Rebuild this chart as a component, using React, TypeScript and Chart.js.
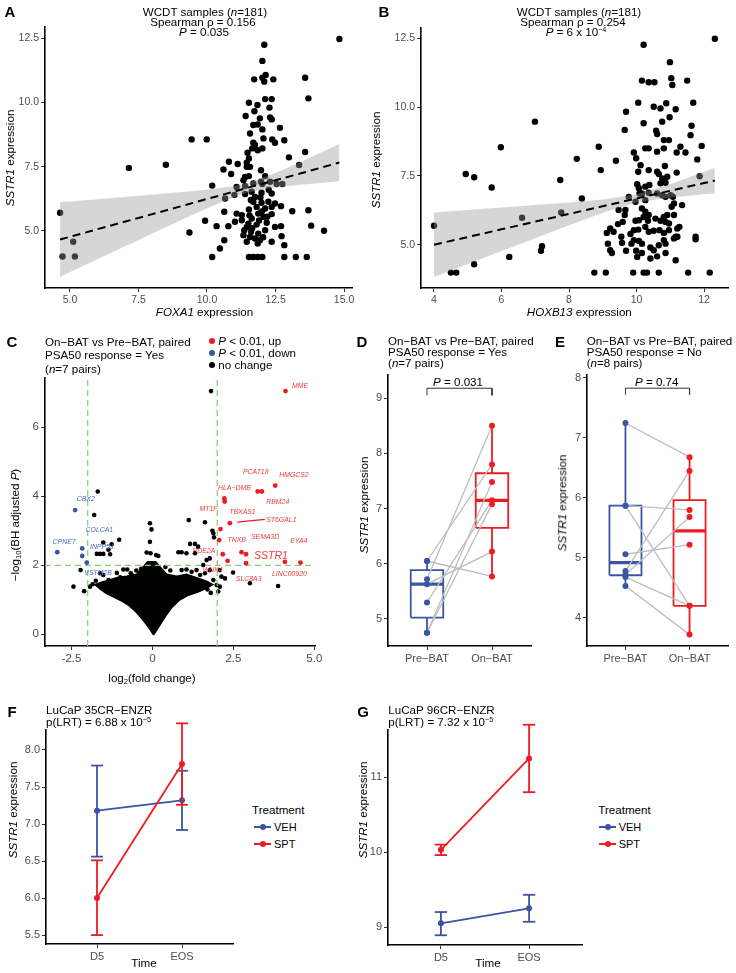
import React, { useEffect, useRef } from "react";
import { Chart, registerables } from "chart.js";

Chart.register(...registerables);

const FONT = "'Liberation Sans', Arial, Helvetica, sans-serif";
const BLUE = "#3b54a4";
const RED = "#ed1c24";
const GREEN = "#8cc870";
const TICK = "#4d4d4d";
const BAND = "rgba(153,153,153,0.4)";
const PAIR = "#bdbdbd";

type P = [number, number];

// ---------- Panel A: FOXA1 vs SSTR1 ----------
const foxa1VsSstr1: P[] = [
  [4.64,5.70],[4.73,4.00],[5.12,4.57],[5.18,4.00],[7.15,7.45],[8.50,7.57],
  [9.36,4.93],[9.44,8.56],[9.99,8.56],[9.93,5.39],[10.19,6.76],[10.19,3.98],[10.35,5.18],[10.47,4.31],[10.60,7.39],[10.63,5.74],[10.63,4.63],[10.66,6.26],[10.78,5.18],[10.80,7.69],[10.88,7.21],
  [11.00,6.40],[11.02,5.35],[11.08,6.71],[11.08,5.67],[11.12,7.60],[11.27,5.61],[11.27,5.41],[11.33,6.97],[11.33,4.83],[11.36,5.02],[11.39,7.10],[11.39,6.74],[11.39,6.43],[11.41,9.47],[11.45,7.65],[11.45,7.49],[11.45,4.57],[11.48,8.04],[11.51,5.28],[11.53,9.99],[11.53,7.82],[11.53,7.13],[11.53,5.83],[11.53,3.98],[11.57,8.79],[11.57,7.49],[11.57,4.76],[11.61,4.96],[11.63,6.52],[11.63,5.48],[11.65,8.21],[11.69,9.12],[11.69,8.43],[11.69,6.84],[11.69,6.13],[11.69,3.98],[11.72,10.90],[11.73,9.66],[11.75,8.34],[11.75,6.32],[11.75,4.70],[11.81,5.93],[11.81,5.24],[11.84,9.90],[11.85,9.14],[11.85,8.14],[11.85,4.50],[11.85,3.98],[11.87,5.67],[11.87,4.89],[11.93,9.38],[11.93,4.63],[11.97,7.36],[11.97,6.91],[11.99,6.48],[11.99,6.09],
  [12.02,11.62],[12.02,10.96],[12.02,8.95],[12.02,8.21],[12.02,6.82],[12.02,3.98],[12.06,8.60],[12.06,5.54],[12.09,12.25],[12.09,10.81],[12.12,10.13],[12.12,7.13],[12.12,5.87],[12.12,5.02],[12.14,11.07],[12.18,5.31],[12.24,6.13],[12.28,9.80],[12.30,9.42],[12.30,6.91],[12.36,10.13],[12.36,9.34],[12.36,6.45],[12.36,5.93],[12.36,5.65],[12.36,4.57],[12.38,8.56],[12.42,10.90],[12.48,8.43],[12.48,6.06],[12.48,5.15],[12.54,6.82],[12.66,9.01],[12.70,5.96],[12.70,5.18],[12.72,4.79],[12.75,6.82],[12.82,8.53],[12.82,4.44],[12.82,3.98],[12.99,7.86],[13.11,5.76],[13.24,3.98],[13.36,7.56],[13.58,10.96],[13.58,8.07],[13.64,3.98],[13.70,10.16],[13.70,5.80],[13.80,5.20],[14.27,5.00],[14.83,12.47],
  [11.45,5.15],[11.55,5.60],[11.65,5.10],[11.90,5.40],[12.00,5.75],[12.20,5.55],[11.95,6.30],[12.25,6.60],[11.60,6.20],[12.05,4.75]
];
const fitAX = [4.64, 6, 7.5, 9, 10, 11, 11.5, 12.5, 13.5, 14.83];
const fitAY = [4.66, 5.06, 5.50, 5.94, 6.24, 6.53, 6.68, 6.97, 7.26, 7.66];
const bandAHigh = [6.11, 6.23, 6.36, 6.50, 6.60, 6.74, 6.86, 7.25, 7.72, 8.39];
const bandALow = [3.21, 3.89, 4.64, 5.39, 5.88, 6.32, 6.50, 6.69, 6.80, 6.93];
const ticksAX = [5, 7.5, 10, 12.5, 15];
const ticksAY = [5, 7.5, 10, 12.5];

// ---------- Panel B: HOXB13 vs SSTR1 ----------
const hoxb13VsSstr1: P[] = [
  [4.00,5.69],[4.50,3.99],[4.66,3.99],[4.94,7.57],[5.19,7.45],[5.19,4.29],[5.71,7.08],[5.98,8.54],[6.23,4.56],[6.61,5.98],[6.99,9.47],[7.17,4.78],[7.20,4.95],[7.74,7.35],[7.77,6.17],[8.23,8.12],[8.38,6.68],[8.75,3.99],[8.88,8.56],[8.94,7.71],
  [9.09,3.99],[9.12,5.43],[9.15,5.04],[9.22,5.59],[9.22,4.80],[9.27,4.70],[9.32,5.47],[9.39,8.05],[9.45,5.75],[9.47,6.26],[9.55,5.29],[9.57,5.07],[9.59,5.83],[9.65,9.17],[9.65,6.08],[9.67,6.26],[9.69,9.83],[9.69,4.78],[9.77,6.74],[9.82,5.39],[9.85,5.04],[9.90,3.99],[9.92,8.35],[9.92,5.53],[9.92,5.17],[9.97,6.56],[9.97,5.87],[9.99,8.14],[9.99,4.78],
  [10.02,7.20],[10.02,4.56],[10.05,10.16],[10.05,7.65],[10.05,5.55],[10.07,7.05],[10.07,5.89],[10.07,5.14],[10.09,6.86],[10.12,7.89],[10.16,10.96],[10.16,6.86],[10.16,6.32],[10.16,5.04],[10.16,4.70],[10.21,12.26],[10.21,9.41],[10.21,6.01],[10.21,3.99],[10.26,8.50],[10.26,7.11],[10.26,6.62],[10.26,6.20],[10.26,5.65],[10.31,3.99],[10.34,5.87],[10.36,10.90],[10.36,8.50],[10.36,7.71],[10.36,6.89],[10.36,6.08],[10.36,5.47],[10.38,7.17],[10.41,4.90],[10.41,4.50],[10.51,10.01],[10.51,5.51],[10.51,4.80],[10.53,10.90],[10.56,5.95],[10.58,9.14],[10.61,9.02],[10.61,8.38],[10.61,7.65],[10.61,6.86],[10.61,4.58],[10.66,7.57],[10.66,4.98],[10.66,3.99],[10.68,5.53],[10.71,9.95],[10.71,7.23],[10.71,5.87],[10.76,9.47],[10.76,7.41],[10.76,6.80],[10.81,8.80],[10.81,8.50],[10.81,6.01],[10.81,5.43],[10.81,5.17],[10.84,7.86],[10.86,7.25],[10.86,6.74],[10.86,5.83],[10.86,5.04],[10.86,4.70],[10.88,10.14],[10.91,7.47],[10.91,6.08],[10.96,8.80],[10.96,5.77],[10.96,5.53],[10.98,9.63],[10.99,11.63],
  [11.01,6.80],[11.03,11.05],[11.04,6.38],[11.06,10.80],[11.08,6.74],[11.11,6.50],[11.11,6.08],[11.11,5.23],[11.16,9.92],[11.16,5.29],[11.16,4.44],[11.19,8.35],[11.19,7.62],[11.21,5.59],[11.21,5.29],[11.27,5.65],[11.30,8.56],[11.35,6.44],[11.45,8.35],[11.50,10.96],[11.53,3.99],[11.60,8.98],[11.63,9.32],[11.68,10.16],[11.75,5.29],[11.75,5.20],[11.80,8.10],[11.87,7.49],[11.93,8.59],[12.17,3.99],[12.32,12.48]
];
const fitBX = [4, 5, 6, 7, 8, 9, 10, 11, 12, 12.32];
const fitBY = [5.00, 5.28, 5.56, 5.84, 6.12, 6.40, 6.68, 6.96, 7.24, 7.33];
const bandBHigh = [6.17, 6.26, 6.35, 6.44, 6.53, 6.64, 6.83, 7.20, 7.65, 7.80];
const bandBLow = [3.83, 4.30, 4.77, 5.24, 5.71, 6.16, 6.53, 6.72, 6.83, 6.86];
const ticksBX = [4, 6, 8, 10, 12];
const ticksBY = [5, 7.5, 10, 12.5];

// ---------- Panel C: volcano ----------
const volcanoCore: P[] = [
  [0.03,-0.02],[-0.10,0.18],[-0.30,0.42],[-0.50,0.64],[-0.72,0.83],[-0.98,0.98],[-1.24,1.10],[-1.42,1.18],[-1.60,1.30],[-1.78,1.44],[-1.55,1.52],[-1.30,1.58],[-1.11,1.64],[-0.80,1.68],[-0.49,1.74],[-0.28,1.96],[-0.15,2.10],[0.10,2.10],[0.23,1.96],[0.44,1.74],[0.75,1.68],[1.05,1.74],[1.36,1.64],[1.67,1.54],[1.86,1.44],[1.67,1.33],[1.38,1.22],[1.08,1.12],[0.82,0.98],[0.60,0.78],[0.40,0.52],[0.20,0.22],[0.03,-0.02]
];
const volcanoNoChange: P[] = [
  [1.81,7.05],[-1.69,4.14],[-1.80,3.46],
  [-0.08,3.22],[-0.03,3.04],[-0.08,2.68],[-0.18,2.37],[-0.06,2.35],[0.11,2.30],[0.18,2.27],
  [-1.03,2.74],[-1.52,2.66],[-1.26,2.61],[-1.36,2.45],[-1.31,2.32],[-1.72,2.33],[-1.62,2.33],[-1.52,2.33],
  [-2.22,1.86],[-2.44,1.38],[-2.11,1.25],[-1.93,1.38],
  [-1.62,1.77],[-1.52,1.72],[-1.36,1.57],[-0.90,1.88],[-0.78,1.88],[-0.67,1.77],[-1.00,1.65],[-0.85,1.57],[-0.64,1.72],
  [-1.75,1.55],[-1.85,1.45],[-1.20,1.45],[-1.10,1.78],[0.40,1.95],[0.55,1.85],[-0.35,1.90],[-0.50,1.85],
  [1.12,3.31],[1.62,3.25],[1.85,3.00],[1.88,2.93],[1.90,2.81],
  [0.80,2.38],[0.90,2.38],[1.16,2.62],[1.31,2.62],[1.41,2.54],[1.31,2.35],[1.05,2.35],
  [1.67,2.15],[1.77,2.20],[1.57,2.01],
  [0.90,1.86],[1.05,1.88],[1.21,1.81],[1.36,1.86],[1.47,1.72],[1.62,1.77],[1.77,1.86],[2.08,1.86],[2.13,1.67],[2.24,1.62],[2.49,1.79],[1.88,1.57],[1.98,1.43],[2.08,1.38],[2.03,1.24],
  [1.70,1.30],[1.60,1.45],[1.80,1.20],
  [3.01,1.48],[3.88,1.40]
];
const volcanoUp: P[] = [
  [4.11,7.05],[3.79,4.31],[3.25,4.14],[3.38,4.14],[2.22,3.94],[2.23,3.85],[2.39,3.22],[2.10,3.05],
  [2.06,2.73],[2.17,2.32],[2.32,2.13],[2.75,2.38],[2.89,2.32],[2.89,2.06],[4.09,2.10],[4.57,2.08]
];
const volcanoDown: P[] = [[-2.39,3.60],[-2.94,2.38],[-2.17,2.49],[-2.17,2.27],[-2.03,2.08]];
const geneLabelsUp: [string, number, number][] = [
  ["MME",4.56,7.20],["PCAT18",3.19,4.71],["HMGCS2",4.37,4.61],["HLA\u2212DMB",2.53,4.23],["RBM24",3.87,3.82],
  ["TBXAS1",2.78,3.53],["ST6GAL1",3.98,3.31],["MT1F",1.73,3.62],["TNXB",2.60,2.73],["SEMA3D",3.48,2.83],
  ["EYA4",4.52,2.69],["PDE2A",1.59,2.42],["WNK4",1.86,1.85],["LINC00920",4.23,1.75],["SLC8A3",2.97,1.59]
];
const geneLabelsDown: [string, number, number][] = [
  ["CBX2",-2.06,3.91],["COLCA1",-1.64,3.02],["CPNE7",-2.73,2.66],["INPP5J",-1.57,2.52],["VSTM2B",-1.68,1.76]
];
const sstr1Label: [string, number, number] = ["SSTR1", 3.66, 2.28];
const st6gal1Connector: P[] = [[2.62,3.25],[3.47,3.33]];
const fcThresholds = [-2, 2];
const padjThreshold = 2;
const ticksCX = [-2.5, 0, 2.5, 5];
const ticksCY = [0, 2, 4, 6];

// ---------- Panels D/E: paired box plots ----------
const bxCategories = ["Pre\u2212BAT", "On\u2212BAT"];
const preD = [6.05, 6.05, 5.72, 5.63, 5.30, 4.75, 4.75];
const onD = [7.80, 5.77, 8.50, 6.22, 7.15, 7.48, 7.08];
const preE = [7.25, 5.87, 5.87, 5.06, 4.78, 4.72, 4.68, 4.53];
const onE = [6.68, 5.80, 4.20, 5.22, 6.45, 5.68, 4.20, 3.72];
const ticksDY = [5, 6, 7, 8, 9];
const ticksEY = [4, 5, 6, 7, 8];

// ---------- Panels F/G: time course ----------
const timeCategories = ["D5", "EOS"];
const vehF = [7.18, 7.32], vehFLo = [6.56, 6.92], vehFHi = [7.79, 7.72];
const sptF = [6.00, 7.81], sptFLo = [5.50, 7.26], sptFHi = [6.51, 8.36];
const vehG = [9.05, 9.25], vehGLo = [8.89, 9.07], vehGHi = [9.20, 9.43];
const sptG = [10.03, 11.25], sptGLo = [9.96, 10.80], sptGHi = [10.10, 11.70];
const ticksFY = [5.5, 6, 6.5, 7, 7.5, 8];
const ticksGY = [9, 10, 11];

// ---------- helpers ----------
const xy = (arr: P[]) => arr.map(([x, y]) => ({ x, y }));
const zip = (xs: number[], ys: number[]) => xs.map((x, i) => ({ x, y: ys[i] }));

function axis(kind: "x" | "y", min: number, max: number, ticks: number[], fmt: (v: number) => string, size: number, fontSize: number) {
  return {
    type: "linear",
    position: kind === "x" ? "bottom" : "left",
    min, max,
    afterBuildTicks: (s: any) => { s.ticks = ticks.map((v) => ({ value: v })); },
    afterFit: (s: any) => { if (kind === "x") s.height = size; else s.width = size; },
    grid: { display: true, drawOnChartArea: false, drawTicks: true, tickLength: 4, color: "#333", lineWidth: 1 },
    border: { display: true, color: "#000", width: 1.6 },
    ticks: {
      color: TICK, font: { family: FONT, size: fontSize }, padding: 2,
      autoSkip: false, maxRotation: 0, minRotation: 0,
      callback: (v: any) => fmt(Number(v)),
    },
  };
}

function pointSet(data: any[], color: string, r: number, order: number) {
  return { data, showLine: false, pointRadius: r, pointHoverRadius: r, pointBackgroundColor: color, pointBorderWidth: 0, pointBorderColor: color, borderColor: color, backgroundColor: color, order };
}
function lineSet(data: any[], color: string, width: number, order: number, dash: number[] = []) {
  return { data, showLine: true, pointRadius: 0, pointHoverRadius: 0, borderColor: color, borderWidth: width, borderDash: dash, fill: false, order, tension: 0, borderJoinStyle: "miter", borderCapStyle: "butt" };
}

function options(pad: any, x: any, y: any) {
  return {
    responsive: false, maintainAspectRatio: false, animation: false, events: [],
    layout: { padding: pad, autoPadding: false },
    plugins: { legend: { display: false }, tooltip: { enabled: false }, title: { display: false } },
    scales: { x, y },
  };
}

function quantile(s: number[], p: number) {
  const h = (s.length - 1) * p;
  const lo = Math.floor(h);
  const hi = Math.min(lo + 1, s.length - 1);
  return s[lo] + (h - lo) * (s[hi] - s[lo]);
}

function boxSets(values: number[], xc: number, color: string) {
  const s = [...values].sort((a, b) => a - b);
  const q1 = quantile(s, 0.25), med = quantile(s, 0.5), q3 = quantile(s, 0.75);
  const iqr = q3 - q1;
  const lo = s.find((v) => v >= q1 - 1.5 * iqr) as number;
  const hi = [...s].reverse().find((v) => v <= q3 + 1.5 * iqr) as number;
  const hw = 0.25;
  return [
    { ...lineSet([{ x: xc - hw, y: q1 }, { x: xc + hw, y: q1 }, { x: xc + hw, y: q3 }, { x: xc - hw, y: q3 }, { x: xc - hw, y: q1 }], color, 1.8, 8), fill: "shape", backgroundColor: "#fff" },
    lineSet([{ x: xc, y: lo }, { x: xc, y: q1 }], color, 1.8, 7),
    lineSet([{ x: xc, y: q3 }, { x: xc, y: hi }], color, 1.8, 7),
    lineSet([{ x: xc - hw, y: med }, { x: xc + hw, y: med }], color, 3.2, 7),
  ];
}

function pairedSets(pre: number[], on: number[], bracketLo: number, bracketHi: number) {
  return [
    ...boxSets(pre, 1, BLUE),
    ...boxSets(on, 2, RED),
    ...pre.map((p, i) => lineSet([{ x: 1, y: p }, { x: 2, y: on[i] }], PAIR, 1.3, 4)),
    pointSet(pre.map((v) => ({ x: 1, y: v })), BLUE, 3, 2),
    pointSet(on.map((v) => ({ x: 2, y: v })), RED, 3, 2),
    lineSet([{ x: 1, y: bracketLo }, { x: 1, y: bracketHi }, { x: 2, y: bracketHi }, { x: 2, y: bracketLo }], "#333", 1, 1),
  ];
}

function errSets(means: number[], lo: number[], hi: number[], color: string, order: number) {
  const cap = 0.07;
  const out: any[] = [];
  means.forEach((_, i) => {
    const xc = i + 1;
    out.push({ ...lineSet([{ x: xc, y: lo[i] }, { x: xc, y: hi[i] }], color, 1.8, order), clip: false });
    out.push({ ...lineSet([{ x: xc - cap, y: lo[i] }, { x: xc + cap, y: lo[i] }], color, 1.8, order), clip: false });
    out.push({ ...lineSet([{ x: xc - cap, y: hi[i] }, { x: xc + cap, y: hi[i] }], color, 1.8, order), clip: false });
  });
  out.push({ ...lineSet(means.map((m, i) => ({ x: i + 1, y: m })), color, 1.8, order), pointRadius: 3, pointBackgroundColor: color, pointBorderWidth: 0, clip: false });
  return out;
}

const geneLabelPlugin = {
  id: "geneLabels",
  afterDatasetsDraw(chart: any) {
    const { ctx, scales } = chart;
    const px = (v: number) => scales.x.getPixelForValue(v);
    const py = (v: number) => scales.y.getPixelForValue(v);
    ctx.save();
    ctx.textAlign = "center";
    ctx.textBaseline = "middle";
    const draw = (list: [string, number, number][], color: string, size: number) => {
      ctx.font = `italic ${size}px ${FONT}`;
      ctx.fillStyle = color;
      list.forEach(([t, x, y]) => ctx.fillText(t, px(x), py(y)));
    };
    draw(geneLabelsUp, "#ee3b3b", 6.9);
    draw(geneLabelsDown, "#4a6cc4", 6.9);
    draw([sstr1Label], "#ee3b3b", 10.5);
    ctx.restore();
  },
};

function PlotCanvas({ left, top, width, height, make }: any) {
  const ref = useRef<HTMLCanvasElement | null>(null);
  useEffect(() => {
    const chart = new Chart(ref.current as HTMLCanvasElement, make());
    return () => chart.destroy();
  }, []);
  return <canvas ref={ref} width={width} height={height} style={{ position: "absolute", left, top, width, height }} />;
}

function T({ x, y, anchor = "middle", size = 11.6, bold = false, italic = false, color = "#000", rotate = 0, children }: any) {
  const tx = anchor === "start" ? "0" : anchor === "end" ? "-100%" : "-50%";
  return (
    <div style={{
      position: "absolute", left: x, top: y, whiteSpace: "nowrap", lineHeight: 1,
      fontSize: size, fontWeight: bold ? 700 : 400, fontStyle: italic ? "italic" : "normal", color,
      transform: `translate(${tx}, -50%)` + (rotate ? ` rotate(${rotate}deg)` : ""),
    }}>{children}</div>
  );
}
const Sup = ({ children }: any) => <span style={{ fontSize: "0.62em", position: "relative", top: "-0.5em" }}>{children}</span>;
const Sub = ({ children }: any) => <span style={{ fontSize: "0.65em", position: "relative", top: "0.3em" }}>{children}</span>;

const fmt1 = (v: number) => v.toFixed(1);
const fmtInt = (v: number) => String(v);
const catFmt = (labels: string[]) => (v: number) => labels[Math.round(v) - 1] ?? "";

// ---------- chart makers ----------
const makeA = () => ({
  type: "line",
  data: {
    datasets: [
      pointSet(xy(foxa1VsSstr1), "#000", 3.2, 5),
      { ...lineSet(zip(fitAX, bandAHigh), "rgba(0,0,0,0)", 1, 3), fill: "+1", backgroundColor: BAND },
      lineSet(zip(fitAX, bandALow), "rgba(0,0,0,0)", 1, 3),
      lineSet(zip(fitAX, fitAY), "#000", 2, 1, [8, 5]),
    ],
  },
  options: options({ left: 0, right: 14, top: 27, bottom: 10 },
    axis("x", 4.09, 15.29, ticksAX, fmt1, 22, 10.5),
    axis("y", 2.77, 12.94, ticksAY, fmt1, 45, 10.5)),
});

const makeB = () => ({
  type: "line",
  data: {
    datasets: [
      pointSet(xy(hoxb13VsSstr1), "#000", 3.2, 5),
      { ...lineSet(zip(fitBX, bandBHigh), "rgba(0,0,0,0)", 1, 3), fill: "+1", backgroundColor: BAND },
      lineSet(zip(fitBX, bandBLow), "rgba(0,0,0,0)", 1, 3),
      lineSet(zip(fitBX, fitBY), "#000", 2, 1, [8, 5]),
    ],
  },
  options: options({ left: 0, right: 8, top: 28, bottom: 10 },
    axis("x", 3.615, 12.71, ticksBX, fmtInt, 22, 10.5),
    axis("y", 3.43, 12.87, ticksBY, fmt1, 55, 10.5)),
});

const C_XMIN = -3.32, C_XMAX = 5.02, C_YMIN = -0.34, C_YMAX = 7.43;
const makeC = () => ({
  type: "line",
  data: {
    datasets: [
      { ...lineSet(xy(volcanoCore), "#000", 1.5, 9), fill: "shape", backgroundColor: "#000" },
      pointSet(xy(volcanoNoChange), "#000", 2.3, 8),
      ...fcThresholds.map((t) => lineSet([{ x: t, y: C_YMIN }, { x: t, y: C_YMAX }], GREEN, 1.2, 3, [6, 4])),
      lineSet([{ x: C_XMIN, y: padjThreshold }, { x: C_XMAX, y: padjThreshold }], GREEN, 1.2, 3, [6, 4]),
      lineSet(xy(st6gal1Connector), RED, 1.2, 2),
      pointSet(xy(volcanoUp), RED, 2.4, 1),
      pointSet(xy(volcanoDown), BLUE, 2.4, 1),
    ],
  },
  options: options({ left: 0, right: 51, top: 48, bottom: 12 },
    axis("x", C_XMIN, C_XMAX, ticksCX, (v) => (v === 0 ? "0" : v.toFixed(1)), 22, 11.5),
    axis("y", C_YMIN, C_YMAX, ticksCY, fmtInt, 45, 11.5)),
  plugins: [geneLabelPlugin],
});

const makeD = () => ({
  type: "line",
  data: { datasets: pairedSets(preD, onD, 9.05, 9.18) },
  options: options({ left: 0, right: 7, top: 45, bottom: 12 },
    axis("x", 0.4, 2.6, [1, 2], catFmt(bxCategories), 22, 11),
    axis("y", 4.51, 9.42, ticksDY, fmtInt, 22, 11)),
});

const makeE = () => ({
  type: "line",
  data: { datasets: pairedSets(preE, onE, 7.72, 7.83) },
  options: options({ left: 0, right: 8, top: 45, bottom: 12 },
    axis("x", 0.4, 2.6, [1, 2], catFmt(bxCategories), 22, 11),
    axis("y", 3.53, 8.05, ticksEY, fmtInt, 37, 11)),
});

const makeF = () => ({
  type: "line",
  data: { datasets: [...errSets(vehF, vehFLo, vehFHi, BLUE, 2), ...errSets(sptF, sptFLo, sptFHi, RED, 1)] },
  options: options({ left: 0, right: 17, top: 30, bottom: 7 },
    axis("x", 0.4, 2.6, [1, 2], catFmt(timeCategories), 22, 11),
    axis("y", 5.38, 8.27, ticksFY, fmt1, 46, 11)),
});

const makeG = () => ({
  type: "line",
  data: { datasets: [...errSets(vehG, vehGLo, vehGHi, BLUE, 2), ...errSets(sptG, sptGLo, sptGHi, RED, 1)] },
  options: options({ left: 0, right: 14, top: 30, bottom: 6 },
    axis("x", 0.4, 2.6, [1, 2], catFmt(timeCategories), 22, 11),
    axis("y", 8.76, 11.63, ticksGY, fmtInt, 22, 11)),
});

function Dot({ x, y, color, r = 3 }: any) {
  return <div style={{ position: "absolute", left: x - r, top: y - r, width: 2 * r, height: 2 * r, borderRadius: "50%", background: color }} />;
}
function LegendKey({ x, y, color }: any) {
  return (
    <>
      <div style={{ position: "absolute", left: x, top: y - 1, width: 17, height: 2, background: color }} />
      <Dot x={x + 8.5} y={y} color={color} r={3} />
    </>
  );
}

const SSTR1Title = () => (<><i>SSTR1</i> expression</>);

export default function App() {
  return (
    <div style={{ position: "absolute", left: 0, top: 0, width: 736, height: 973, background: "#fff", fontFamily: FONT, overflow: "hidden", color: "#000" }}>
      <PlotCanvas left={0} top={0} width={366} height={320} make={makeA} />
      <PlotCanvas left={366} top={0} width={370} height={320} make={makeB} />
      <PlotCanvas left={0} top={330} width={366} height={350} make={makeC} />
      <PlotCanvas left={366} top={330} width={172} height={350} make={makeD} />
      <PlotCanvas left={550} top={330} width={186} height={350} make={makeE} />
      <PlotCanvas left={0} top={700} width={250} height={273} make={makeF} />
      <PlotCanvas left={366} top={700} width={230} height={273} make={makeG} />

      {/* panel letters */}
      <T x={10} y={11} size={15} bold>A</T>
      <T x={384} y={11} size={15} bold>B</T>
      <T x={12} y={341} size={15} bold>C</T>
      <T x={362} y={341} size={15} bold>D</T>
      <T x={560} y={341} size={15} bold>E</T>
      <T x={12} y={711} size={15} bold>F</T>
      <T x={363} y={711} size={15} bold>G</T>

      {/* A */}
      <T x={205} y={11.7}>WCDT samples (<i>n</i>=181)</T>
      <T x={203} y={21.7}>Spearman ρ = 0.156</T>
      <T x={204} y={31.7}><i>P</i> = 0.035</T>
      <T x={204.5} y={311.7}><i>FOXA1</i> expression</T>
      <T x={10} y={158} rotate={-90}><SSTR1Title /></T>

      {/* B */}
      <T x={579} y={11.7}>WCDT samples (<i>n</i>=181)</T>
      <T x={573} y={21.7}>Spearman ρ = 0.254</T>
      <T x={576} y={31.7}><i>P</i> = 6 x 10<Sup>−4</Sup></T>
      <T x={579.3} y={311.7}><i>HOXB13</i> expression</T>
      <T x={376} y={160} rotate={-90}><SSTR1Title /></T>

      {/* C */}
      <T x={45} y={341.7} anchor="start">On−BAT vs Pre−BAT, paired</T>
      <T x={45} y={355} anchor="start">PSA50 response = Yes</T>
      <T x={45} y={369} anchor="start">(<i>n</i>=7 pairs)</T>
      <Dot x={211.7} y={341} color={RED} />
      <Dot x={211.7} y={353.3} color={BLUE} />
      <Dot x={211.7} y={365.3} color="#000" />
      <T x={218.3} y={341} anchor="start"><i>P</i> &lt; 0.01, up</T>
      <T x={218.3} y={353.3} anchor="start"><i>P</i> &lt; 0.01, down</T>
      <T x={218.3} y={365.3} anchor="start">no change</T>
      <T x={15} y={525} rotate={-90}>−log<Sub>10</Sub>(BH adjusted <i>P</i>)</T>
      <T x={152} y={678}>log<Sub>2</Sub>(fold change)</T>

      {/* D */}
      <T x={388} y={340.7} anchor="start">On−BAT vs Pre−BAT, paired</T>
      <T x={388} y={351.7} anchor="start">PSA50 response = Yes</T>
      <T x={388} y={362.7} anchor="start">(<i>n</i>=7 pairs)</T>
      <T x={458} y={381.7}><i>P</i> = 0.031</T>
      <T x={364} y={505} rotate={-90}><SSTR1Title /></T>

      {/* E */}
      <T x={586.7} y={340.7} anchor="start">On−BAT vs Pre−BAT, paired</T>
      <T x={586.7} y={351.7} anchor="start">PSA50 response = No</T>
      <T x={586.7} y={362.7} anchor="start">(<i>n</i>=8 pairs)</T>
      <T x={656.7} y={381.7}><i>P</i> = 0.74</T>
      <T x={562} y={503} rotate={-90}><SSTR1Title /></T>

      {/* F */}
      <T x={46} y={710} anchor="start">LuCaP 35CR−ENZR</T>
      <T x={46} y={721.7} anchor="start">p(LRT) = 6.88 x 10<Sup>−5</Sup></T>
      <T x={13} y={810} rotate={-90}><SSTR1Title /></T>
      <T x={144} y={963}>Time</T>
      <T x={252} y={810} anchor="start">Treatment</T>
      <LegendKey x={254} y={826.7} color={BLUE} />
      <T x={274} y={826.7} anchor="start" size={11}>VEH</T>
      <LegendKey x={254} y={844} color={RED} />
      <T x={274} y={844} anchor="start" size={11}>SPT</T>

      {/* G */}
      <T x={388.3} y={710} anchor="start">LuCaP 96CR−ENZR</T>
      <T x={388.3} y={721.7} anchor="start">p(LRT) = 7.32 x 10<Sup>−5</Sup></T>
      <T x={363} y={810} rotate={-90}><SSTR1Title /></T>
      <T x={488} y={963}>Time</T>
      <T x={598.3} y={810} anchor="start">Treatment</T>
      <LegendKey x={599} y={826.7} color={BLUE} />
      <T x={618.7} y={826.7} anchor="start" size={11}>VEH</T>
      <LegendKey x={599} y={844} color={RED} />
      <T x={618.7} y={844} anchor="start" size={11}>SPT</T>
    </div>
  );
}
